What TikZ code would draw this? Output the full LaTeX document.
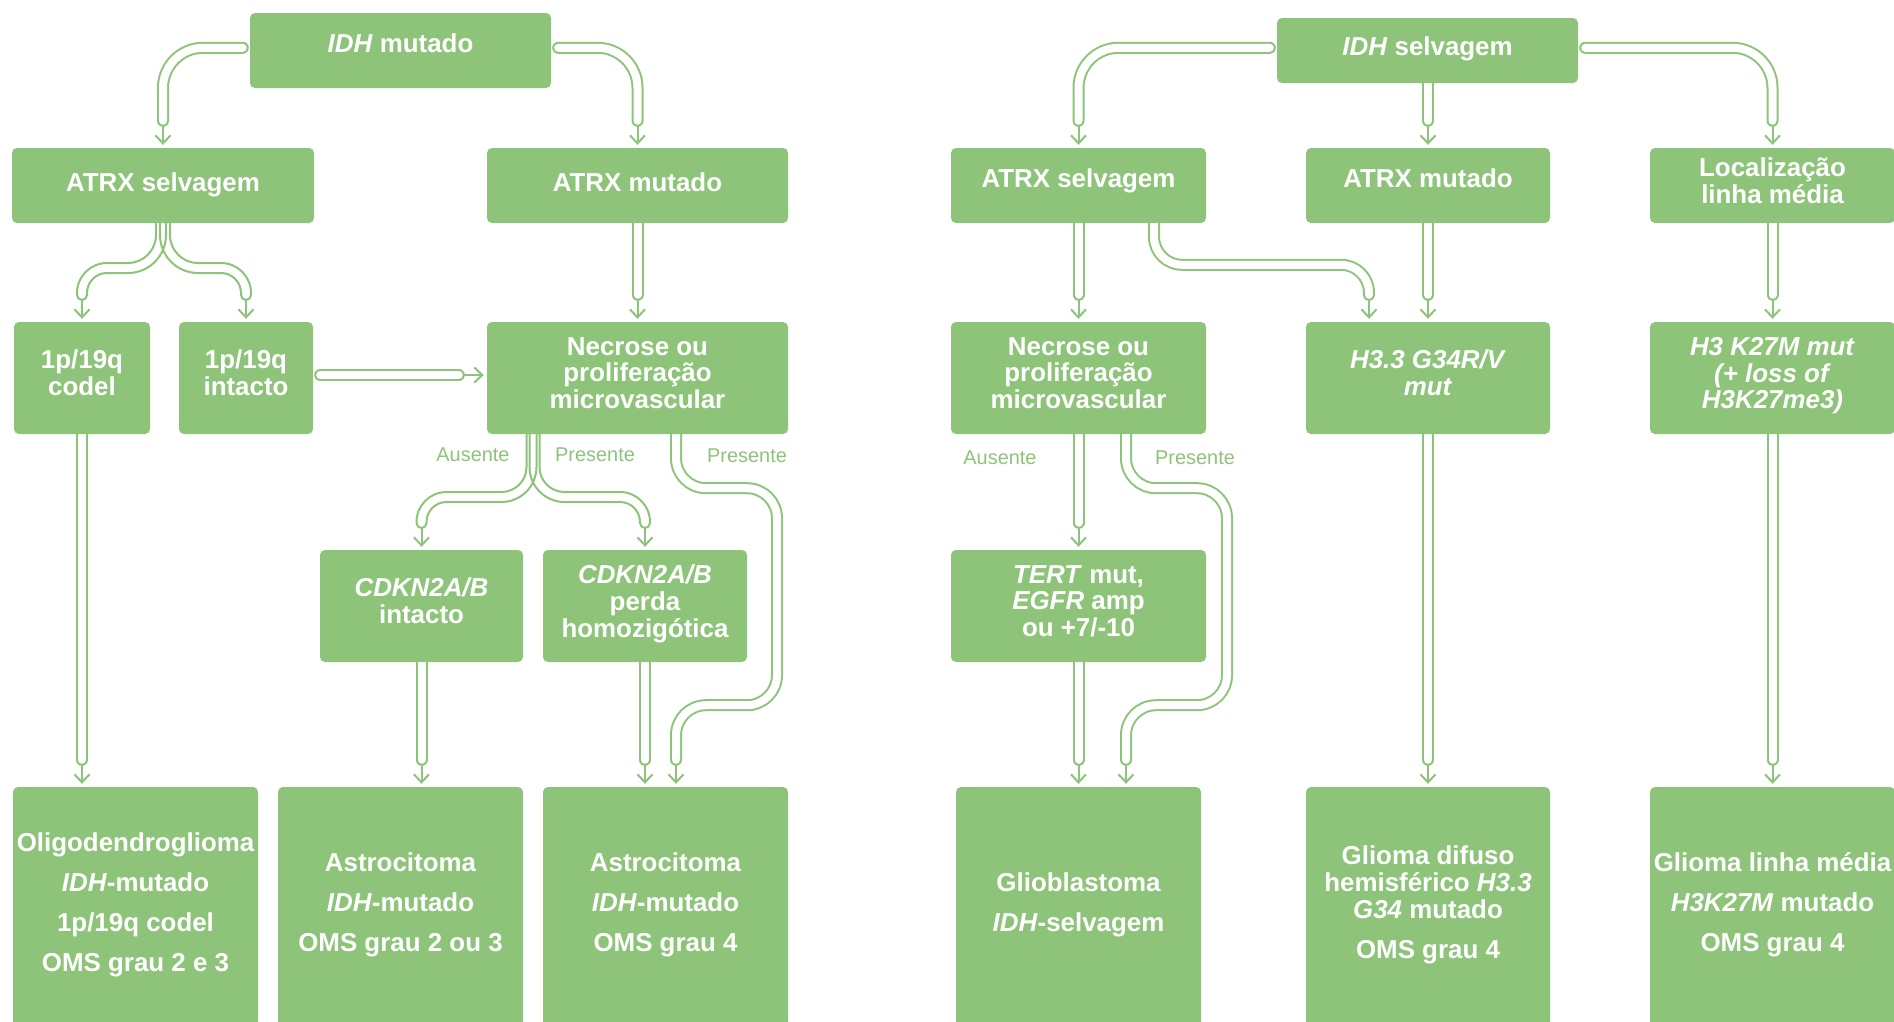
\documentclass[tikz,border=0pt]{standalone}
\usepackage{fontspec}
\setmainfont{Liberation Sans}
\usetikzlibrary{arrows.meta,calc}
\definecolor{gc}{RGB}{141,196,122}
\pgfdeclarelayer{back}
\pgfdeclarelayer{bg}
\pgfsetlayers{back,bg,main}
\newcommand\gbox[7]{\node[box,minimum width={(#4-#2)*1bp},minimum height={(#5-#3)*1bp},#6] (#1) at ({(#2+#4)/2},{(#3+#5)/2}) {#7};}
% split tube drawn as a hollow outline: x0,y0,y1,R1,x2,R2,y3
\newcommand\Stube[7]{%
 \pgfmathsetmacro\tubesgn{sign(#5-#1)}%
 \pgfmathsetmacro\tubeyh{#3+#4}%
 \draw[tubeo]
  ({#1-(\tubesgn)*5},#2) -- ({#1-(\tubesgn)*5},#3)
  arc[start angle={90+90*(\tubesgn)}, end angle=90, radius={#4+5}]
  -- ({#5-(\tubesgn)*#6},{\tubeyh+5})
  arc[start angle=270, end angle={270+90*(\tubesgn)}, radius={#6-5}]
  -- ({#5-(\tubesgn)*5},#7)
  arc[start angle={90+90*(\tubesgn)}, end angle={90-90*(\tubesgn)}, radius=5]
  -- ({#5+(\tubesgn)*5},{\tubeyh+#6})
  arc[start angle={90-90*(\tubesgn)}, end angle={90-180*(\tubesgn)}, radius={#6+5}]
  -- ({#1+(\tubesgn)*#4},{\tubeyh-5})
  arc[start angle=90, end angle={90+90*(\tubesgn)}, radius={#4-5}]
  -- ({#1+(\tubesgn)*5},#2)
  arc[start angle={90-90*(\tubesgn)}, end angle={90-270*(\tubesgn)}, radius=5]
  -- cycle;}
\begin{document}
\begin{tikzpicture}[x=1bp,y=-1bp,
 box/.style={fill=gc, rounded corners=5bp, inner sep=0pt, text=white, align=center,
   font=\fontsize{26}{27}\selectfont\bfseries},
 tdA/.style={text height=20bp, text depth=9bp},
 tdB/.style={text height=20bp, text depth=17bp},
 ml/.style={text depth=10bp},
 tube/.style={draw=gc, line width=2bp, double=white, double distance=8bp, line cap=round},
 tubeo/.style={draw=gc, line width=2bp, line join=round},
 arr/.style={draw=gc, line width=2bp, -{Straight Barb[length=8bp, width=15bp]}},
 lbl/.style={text=gc, inner sep=0pt, font=\fontsize{20}{24}\selectfont}]
\useasboundingbox (0,0) rectangle (1894,1021);
\begin{pgfonlayer}{back}
\fill[white] (0,0) rectangle (1894,1021);
\end{pgfonlayer}
\clip (0,0) rectangle (1894,1021);

% ---------- left tree ----------
\gbox{imut}{250}{13}{551}{88}{text height=20bp,text depth=16.6bp}{\textit{IDH} mutado}
\gbox{atrxwa}{12}{148}{314}{223}{tdA}{ATRX selvagem}
\gbox{atrxma}{487}{148}{788}{223}{tdA}{ATRX mutado}
\gbox{codel}{14}{322}{150}{434}{ml}{1p/19q\\codel}
\gbox{intact}{179}{322}{313}{434}{ml}{1p/19q\\intacto}
\gbox{necra}{487}{322}{788}{434}{ml}{Necrose ou\\proliferação\\microvascular}
\gbox{cdkni}{320}{550}{523}{662}{ml}{\textit{CDKN2A/B}\\intacto}
\gbox{cdknp}{543}{550}{747}{662}{ml}{\textit{CDKN2A/B}\\perda\\homozigótica}
\gbox{oligo}{13}{787}{258}{1027}{ml}{Oligodendroglioma\\[13bp]\textit{IDH}-mutado\\[13bp]1p/19q codel\\[13bp]OMS grau 2 e 3}
\gbox{astroa}{278}{787}{523}{1027}{ml}{Astrocitoma\\[13bp]\textit{IDH}-mutado\\[13bp]OMS grau 2 ou 3}
\gbox{astrob}{543}{787}{788}{1027}{ml}{Astrocitoma\\[13bp]\textit{IDH}-mutado\\[13bp]OMS grau 4}

% ---------- right tree ----------
\gbox{iwt}{1277}{18}{1578}{83}{text height=20bp,text depth=10bp}{\textit{IDH} selvagem}
\gbox{atrxwb}{951}{148}{1206}{223}{tdB}{ATRX selvagem}
\gbox{atrxmb}{1306}{148}{1550}{223}{tdB}{ATRX mutado}
\gbox{loc}{1650}{148}{1895}{223}{ml}{Localização\\linha média}
\gbox{necrb}{951}{322}{1206}{434}{ml}{Necrose ou\\proliferação\\microvascular}
\gbox{hgg}{1306}{322}{1550}{434}{ml}{\textit{H3.3 G34R/V}\\\textit{mut}}
\gbox{kmut}{1650}{322}{1895}{434}{ml}{\textit{H3 K27M mut}\\\textit{(+ loss of}\\\textit{H3K27me3)}}
\gbox{tert}{951}{550}{1206}{662}{ml}{\textit{TERT} mut,\\\textit{EGFR} amp\\ou +7/-10}
\gbox{gbm}{956}{787}{1201}{1027}{ml}{Glioblastoma\\[13bp]\textit{IDH}-selvagem}
\gbox{gdh}{1306}{787}{1550}{1027}{ml}{Glioma difuso\\hemisférico \textit{H3.3}\\\textit{G34} mutado\\[13bp]OMS grau 4}
\gbox{glm}{1650}{787}{1895}{1027}{ml}{Glioma linha média\\[13bp]\textit{H3K27M} mutado\\[13bp]OMS grau 4}

% ---------- labels ----------
\node[lbl] (la1) at (473,455) {Ausente};
\node[lbl] (lp1) at (595,455) {Presente};
\node[lbl] (lp2) at (747,456) {Presente};
\node[lbl] (la2) at (1000,458) {Ausente};
\node[lbl] (lp3) at (1195,458) {Presente};

% ---------- connector ends ----------
\coordinate (ea1) at ($(atrxwa.north)+(0,-27)$);
\coordinate (ea2) at ($(atrxma.north)+(0,-27)$);
\coordinate (ea3) at ($(codel.north)+(0,-27)$);
\coordinate (ea4) at ($(intact.north)+(0,-27)$);
\coordinate (ea5) at ($(necra.north)+(0,-27)$);
\coordinate (ea6) at ($(necra.west)+(-28,-3)$);
\coordinate (ea7) at ($(codel.south |- oligo.north)+(0,-27)$);
\coordinate (ea8) at ($(cdkni.north)+(0,-27)$);
\coordinate (ea9) at ($(cdknp.north)+(0,-27)$);
\coordinate (ea10) at ($(cdkni.south |- astroa.north)+(0,-27)$);
\coordinate (ea11) at ($(cdknp.south |- astrob.north)+(0,-27)$);
\coordinate (ea12) at ($(astrob.north)+(10.5,-27)$);
\coordinate (eb1) at ($(atrxwb.north)+(0,-27)$);
\coordinate (eb2) at ($(atrxmb.north)+(0,-27)$);
\coordinate (eb3) at ($(loc.north)+(0,-27)$);
\coordinate (eb4) at ($(necrb.north)+(0,-27)$);
\coordinate (eb5) at ($(hgg.north)+(-59,-27)$);
\coordinate (eb6) at ($(hgg.north)+(0,-27)$);
\coordinate (eb7) at ($(kmut.north)+(0,-27)$);
\coordinate (eb8) at ($(tert.north)+(0,-27)$);
\coordinate (eb9) at ($(gbm.north)+(0,-27)$);
\coordinate (eb10) at ($(gbm.north)+(47.5,-27)$);
\coordinate (eb11) at ($(gdh.north)+(0,-27)$);
\coordinate (eb12) at ($(glm.north)+(0,-27)$);

\begin{pgfonlayer}{bg}
% arrows
\foreach \e/\b in {ea1/atrxwa,ea2/atrxma,ea3/codel,ea4/intact,ea5/necra,ea7/oligo,ea8/cdkni,ea9/cdknp,ea10/astroa,ea11/astrob,ea12/astrob,eb1/atrxwb,eb2/atrxmb,eb3/loc,eb4/necrb,eb5/hgg,eb6/hgg,eb7/kmut,eb8/tert,eb9/gbm,eb10/gbm,eb11/gdh,eb12/glm}
  \draw[arr] ($(\e)+(0,5)$) -- ($(\e |- \b.north)+(0,-3)$);
\draw[arr] ($(ea6)+(5,0)$) -- ($(ea6 -| necra.west)+(-3,0)$);

% left tubes
\draw[tube, rounded corners=40bp] ($(imut.north west)+(-7,35)$) -| (ea1);
\draw[tube, rounded corners=40bp] ($(imut.north east)+(7,35)$) -| (ea2);
\draw[tube] (atrxma.south) -- (ea5);
\draw[tube] ($(intact.east)+(7,-3)$) -- (ea6);
\draw[tube] (codel.south) -- (ea7);
\draw[tube] (cdkni.south) -- (ea10);
\draw[tube] (cdknp.south) -- (ea11);
\draw[tube, rounded corners=30bp] ($(necra.south)+(38.5,0)$) -- ++(0,54) -- ++(101,0) -- ++(0,217) -- ++(-101,0) -- (ea12);
\Stube{161}{223}{235}{33}{82}{25}{295}
\Stube{165}{223}{235}{33}{246}{25}{295}
\Stube{531.5}{434}{467}{30}{421.5}{25}{523}
\Stube{534.5}{434}{467}{30}{645}{25}{523}

% right tubes
\draw[tube, rounded corners=40bp] ($(iwt.north west)+(-7,30)$) -| (eb1);
\draw[tube] (eb2 |- iwt.south) -- (eb2);
\draw[tube, rounded corners=40bp] ($(iwt.north east)+(7,30)$) -| (eb3);
\draw[tube] (atrxwb.south) -- (eb4);
\draw[tube, rounded corners=28bp] ($(atrxwb.south)+(75.5,0)$) |- ($(eb5)+(0,-30)$) -- (eb5);
\draw[tube] (atrxmb.south) -- (eb6);
\draw[tube] (loc.south) -- (eb7);
\draw[tube] (necrb.south) -- (eb8);
\draw[tube, rounded corners=30bp] ($(necrb.south)+(47.5,0)$) -- ++(0,54) -- ++(101,0) -- ++(0,217) -- ++(-101,0) -- (eb10);
\draw[tube] (tert.south) -- (eb9);
\draw[tube] (hgg.south) -- (eb11);
\draw[tube] (kmut.south) -- (eb12);
\end{pgfonlayer}
\end{tikzpicture}
\end{document}
